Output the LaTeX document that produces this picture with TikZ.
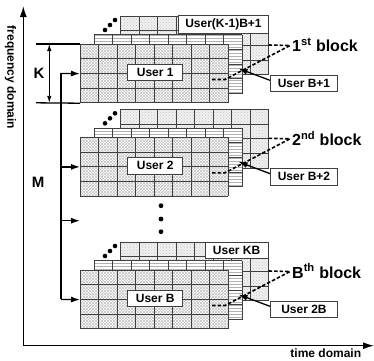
\documentclass[tikz,border=0pt]{standalone}
\usepackage{fontspec}
\setmainfont{Liberation Sans}
\usetikzlibrary{patterns,arrows.meta,calc}
\tikzset{
  gridline/.style={draw=black!75, line width=0.9pt},
  frontfill/.style={fill=white, postaction={pattern=north east lines, pattern color=gray!45}, postaction={pattern=north west lines, pattern color=gray!45}},
  midfill/.style={fill=white, postaction={pattern=horizontal lines, pattern color=gray!60}},
  backfill/.style={fill=gray!12, postaction={pattern=crosshatch dots, pattern color=gray!45}},
  userbox/.style={draw=black!75, fill=white, line width=0.7pt, font=\bfseries\fontsize{12}{12}\selectfont, minimum width=55pt, minimum height=16.7pt, inner sep=1pt},
  blockdash/.style={line width=1.6pt, dash pattern=on 3.5pt off 2pt},
  ptr/.style={line width=1.3pt, -{Latex[length=9pt,width=6pt]}},
  axis/.style={line width=1.3pt, -{Latex[length=11pt,width=7pt]}},
  lbl/.style={font=\bfseries\fontsize{12}{12}\selectfont, inner sep=0},
  big/.style={font=\bfseries\fontsize{15}{15}\selectfont, inner sep=0},
  conn/.style={line width=1.3pt},
}
\newcommand\mycells[3]{%
  \begin{scope}[shift={(#1,#2)}]
    \fill[#3] (0,0) rectangle (148,58.8);
    \foreach \i in {0,...,8} \draw[gridline] (\i*18.5,0) -- (\i*18.5,58.8);
    \foreach \j in {0,...,4} \draw[gridline] (0,\j*14.7) -- (148,\j*14.7);
  \end{scope}}
\newcommand\myblock[5]{% #1 top, #2 id, #3 user, #4 right label, #5 block text
  \mycells{120.7}{#1-28}{backfill}
  \mycells{94}{#1-9.2}{midfill}
  \mycells{80}{#1}{frontfill}
  \node[anchor=north west, minimum width=148pt, minimum height=58.8pt, inner sep=0] (f#2) at (80,#1) {};
  \fill (105,#1-14) circle (2.3pt) (110,#1-19) circle (2.3pt) (115,#1-24) circle (2.3pt);
  \node[userbox] (u#2) at (155.2,#1+28.3) {#3};
  \node[userbox, minimum width=67.4pt] (r#2) at (304,#1+39.3) {#4};
  \coordinate (t#2) at (238.5,#1+24.5);
  \draw[ptr] ([yshift=3pt]r#2.west) -- (t#2);
  \node[anchor=west, font=\bfseries\fontsize{16}{16}\selectfont, inner sep=0] (b#2) at (292,#1+1) {#5};
  \coordinate (c#2) at (290,#1+1.5);
  \coordinate (d#2) at (268.7,#1+1);
  \coordinate (e#2) at (212,#1+35.5);
  \coordinate (g#2) at (225,#1+35.5);
  \draw[blockdash] (d#2) -- (c#2);
  \draw[blockdash] (e#2) -- (g#2) -- (c#2);
}
\begin{document}
\begin{tikzpicture}[x=1pt,y=-1pt]
\useasboundingbox (0,0) rectangle (374,360);
\fill[white] (0,0) rectangle (374,360);

% axes
\coordinate (o) at (23.3,345.7);
\coordinate (ytip) at (23.3,6);
\coordinate (xtip) at (374,345.7);
\draw[axis] (o) -- (ytip);
\draw[axis] (o) -- (xtip);
\node[lbl, rotate=-90] (fd) at (10.5,77.5) {frequency domain};
\node[lbl] (td) at (325.8,353) {time domain};

% blocks
\myblock{44}{1}{User 1}{User B+1}{1\textsuperscript{st} block}
\myblock{137.3}{2}{User 2}{User B+2}{2\textsuperscript{nd} block}
\myblock{270}{B}{User B}{User 2B}{B\textsuperscript{th} block}

\node[userbox, anchor=north east, minimum width=89.7pt, minimum height=18pt] (k1) at (268.7,44-28.8) {User(K-1)B+1};
\node[userbox, anchor=north east, minimum width=63.4pt, minimum height=16.7pt] (kB) at (268.7,270-28.3) {User KB};

% vertical dots
\fill (161,205.7) circle (2.4pt) (161,219) circle (2.4pt) (161,231.7) circle (2.4pt);

% K
\coordinate (ka) at (36,44);
\coordinate (kb) at (36,102.8);
\draw[conn] (ka) -- (f1.north west);
\draw[conn] (kb) -- (f1.south west);
\coordinate (kt) at (49.3,44);
\coordinate (kd) at (49.3,102.8);
\draw[line width=0.9pt, {Latex[length=7pt,width=4.5pt]}-{Latex[length=7pt,width=4.5pt]}] (kt) -- (kd);
\node[big] (K) at (39,73) {K};

% M
\coordinate (mt) at (61,73.4);
\coordinate (mb) at (61,299.4);
\coordinate (mm) at (61,220.7);
\coordinate (mme) at (80,220.7);
\draw[conn] (mt) -- (mb);
\draw[ptr] (mt) -- (f1.west);
\draw[ptr] (mt |- f2.west) -- (f2.west);
\draw[ptr] (mm) -- (mme);
\draw[ptr] (mb) -- (fB.west);
\node[big] (M) at (38,182) {M};
\end{tikzpicture}
\end{document}
